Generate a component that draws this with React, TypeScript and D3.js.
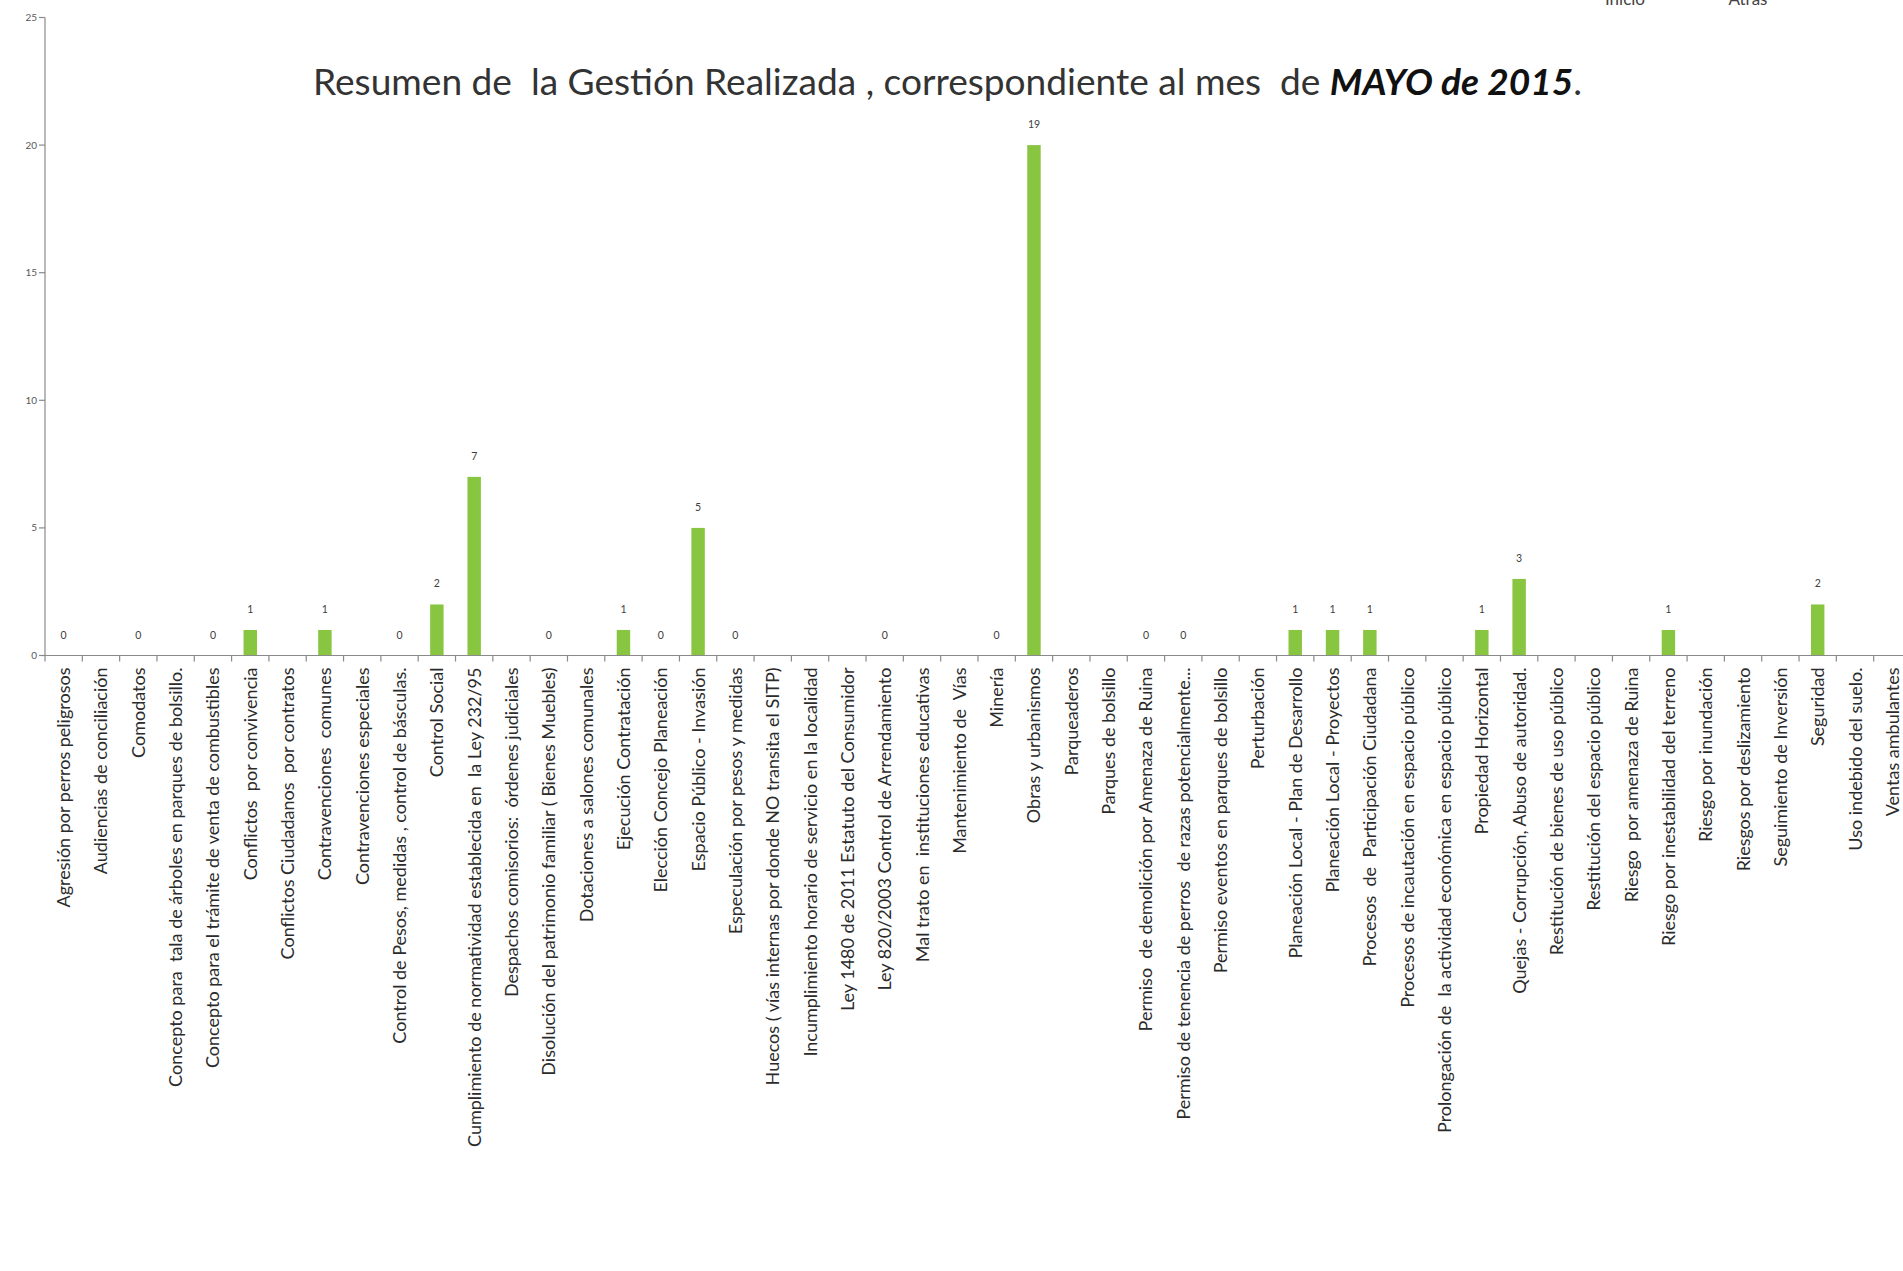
import React from "react";
import * as d3 from "d3";

const categories: string[] = [
  "Agresión por perros peligrosos",
  "Audiencias de conciliación",
  "Comodatos",
  "Concepto para  tala de árboles en parques de bolsillo.",
  "Concepto para el trámite de venta de combustibles",
  "Conflictos  por convivencia",
  "Conflictos Ciudadanos  por contratos",
  "Contravenciones  comunes",
  "Contravenciones especiales",
  "Control de Pesos, medidas , control de básculas.",
  "Control Social",
  "Cumplimiento de normatividad establecida en  la Ley 232/95",
  "Despachos comisorios:  órdenes judiciales",
  "Disolución del patrimonio familiar ( Bienes Muebles)",
  "Dotaciones a salones comunales",
  "Ejecución Contratación",
  "Elección Concejo Planeación",
  "Espacio Público - Invasión",
  "Especulación por pesos y medidas",
  "Huecos ( vías internas por donde NO transita el SITP)",
  "Incumplimiento horario de servicio en la localidad",
  "Ley 1480 de 2011 Estatuto del Consumidor",
  "Ley 820/2003 Control de Arrendamiento",
  "Mal trato en  instituciones educativas",
  "Mantenimiento de  Vías",
  "Minería",
  "Obras y urbanismos",
  "Parqueaderos",
  "Parques de bolsillo",
  "Permiso  de demolición por Amenaza de Ruina",
  "Permiso de tenencia de perros  de razas potencialmente...",
  "Permiso eventos en parques de bolsillo",
  "Perturbación",
  "Planeación Local - Plan de Desarrollo",
  "Planeación Local - Proyectos",
  "Procesos  de  Participación Ciudadana",
  "Procesos de incautación en espacio público",
  "Prolongación de  la actividad económica en espacio público",
  "Propiedad Horizontal",
  "Quejas - Corrupción, Abuso de autoridad.",
  "Restitución de bienes de uso público",
  "Restitución del espacio público",
  "Riesgo  por amenaza de Ruina",
  "Riesgo por inestabilidad del terreno",
  "Riesgo por inundación",
  "Riesgos por deslizamiento",
  "Seguimiento de Inversión",
  "Seguridad",
  "Uso indebido del suelo.",
  "Ventas ambulantes",
];

const values: number[] = [
  0, 0, 0, 0, 0, 1, 0, 1, 0, 0,
  2, 7, 0, 0, 0, 1, 0, 5, 0, 0,
  0, 0, 0, 0, 0, 0, 20, 0, 0, 0,
  0, 0, 0, 1, 1, 1, 0, 0, 1, 3,
  0, 0, 0, 1, 0, 0, 0, 2, 0, 0,
];

const valueLabels: (string | null)[] = [
  "0", null, "0", null, "0", "1", null, "1", null, "0",
  "2", "7", null, "0", null, "1", "0", "5", "0", null,
  null, null, "0", null, null, "0", "19", null, null, "0",
  "0", null, null, "1", "1", "1", null, null, "1", "3",
  null, null, null, "1", null, null, null, "2", null, null,
];

const yTicks: number[] = [0, 5, 10, 15, 20, 25];

const titleNormal = "Resumen de  la Gestión Realizada , correspondiente al mes  de ";
const titleBold = "MAYO de 2015";
const titleEnd = ".";
const navLinks: string[] = ["Inicio", "Atrás"];

const W = 1903;
const H = 1271;
const X0 = 45;
const STEP = 37.32;
const Y0 = 655.5;
const Y25 = 17.5;
const FONT = "Lato, 'Open Sans', sans-serif";

export default function App() {
  const x = d3
    .scaleBand<string>()
    .domain(categories)
    .range([X0, X0 + STEP * categories.length])
    .paddingInner(0.64)
    .paddingOuter(0.32);
  const y = d3.scaleLinear().domain([0, 25]).range([Y0, Y25]);
  const gap = (x.step() - x.bandwidth()) / 2;
  const boundaries = categories.map((c) => (x(c) as number) - gap);
  boundaries.push((x(categories[categories.length - 1]) as number) + x.bandwidth() + gap);

  return (
    <svg
      width={W}
      height={H}
      style={{ position: "absolute", left: 0, top: 0, background: "#fff" }}
      fontFamily={FONT}
    >
      <rect x={0} y={0} width={W} height={H} fill="#fff" />
      {/* nav links, cut at the top edge as in the original */}
      <text x={1625} y={5} fontSize={17} textAnchor="middle" fill="#444">{navLinks[0]}</text>
      <text x={1748} y={5} fontSize={17} textAnchor="middle" fill="#444">{navLinks[1]}</text>

      {/* title */}
      <text x={313} y={95} fontSize={36} fill="#333" textLength={1269} lengthAdjust="spacingAndGlyphs">
        <tspan xmlSpace="preserve">{titleNormal}</tspan>
        <tspan fontWeight="bold" fontStyle="italic" fill="#111">{titleBold}</tspan>
        <tspan>{titleEnd}</tspan>
      </text>

      {/* y axis */}
      <line x1={X0} x2={X0} y1={y(25)} y2={y(0)} stroke="#8a8a8a" strokeWidth={1.2} />
      {yTicks.map((t) => (
        <g key={t}>
          <line x1={X0 - 6} x2={X0} y1={y(t)} y2={y(t)} stroke="#8a8a8a" strokeWidth={1.2} />
          <text x={X0 - 8} y={y(t) + 3.5} fontSize={10} textAnchor="end" fill="#595959">
            {t}
          </text>
        </g>
      ))}

      {/* bars */}
      {categories.map((c, i) =>
        values[i] > 0 ? (
          <rect
            key={c}
            x={x(c)}
            y={y(values[i])}
            width={x.bandwidth()}
            height={y(0) - y(values[i])}
            fill="#88C540"
          />
        ) : null
      )}

      {/* value labels */}
      {categories.map((c, i) =>
        valueLabels[i] !== null ? (
          <text
            key={"v" + c}
            x={(x(c) as number) + x.bandwidth() / 2}
            y={y(values[i]) - 17}
            fontSize={10.5}
            textAnchor="middle"
            fill="#404040"
          >
            {valueLabels[i]}
          </text>
        ) : null
      )}

      {/* x axis */}
      <line x1={X0} x2={W} y1={Y0} y2={Y0} stroke="#8a8a8a" strokeWidth={1.2} />
      {boundaries.map((b, i) => (
        <line key={"t" + i} x1={b} x2={b} y1={Y0} y2={Y0 + 6} stroke="#8a8a8a" strokeWidth={1.2} />
      ))}

      {/* category labels */}
      {categories.map((c) => {
        const cx = (x(c) as number) + x.bandwidth() / 2;
        return (
          <text
            key={"l" + c}
            transform={`translate(${cx + 6.5},${Y0 + 12}) rotate(-90)`}
            fontSize={18}
            textAnchor="end"
            fill="#2b2b2b"
            xmlSpace="preserve"
          >
            {c}
          </text>
        );
      })}
    </svg>
  );
}
